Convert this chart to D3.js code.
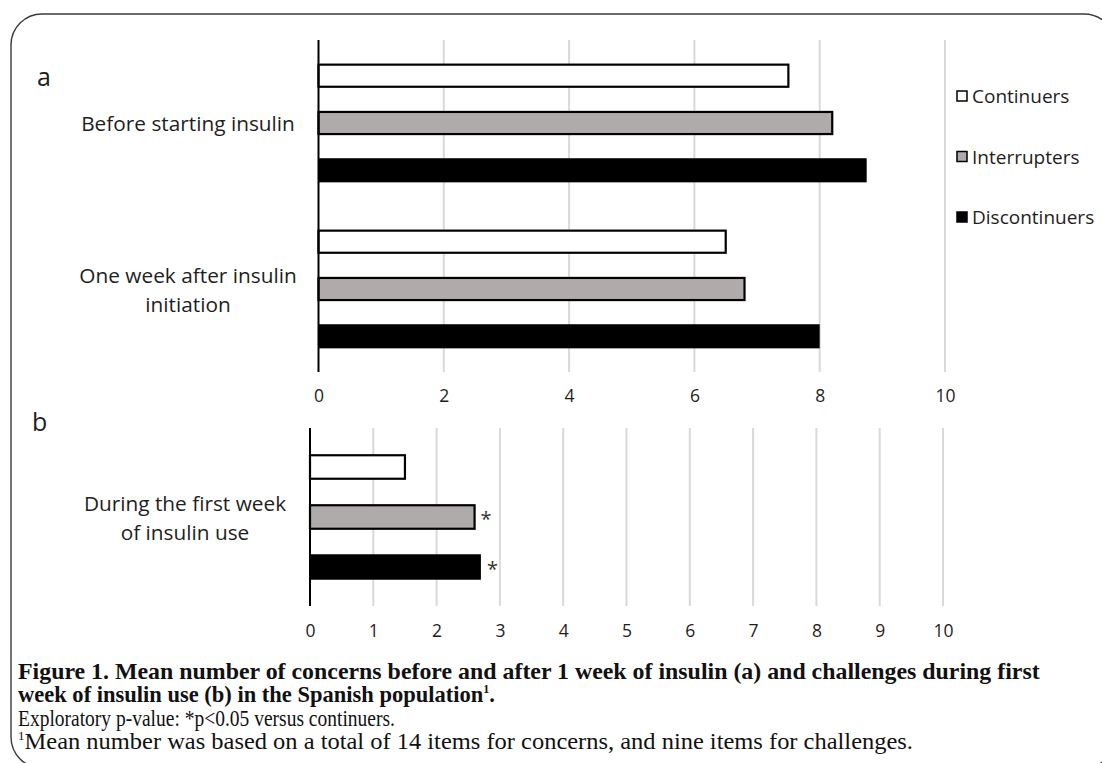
<!DOCTYPE html>
<html>
<head>
<meta charset="utf-8">
<script src="https://cdn.jsdelivr.net/npm/d3@7"></script>
<style>
  html, body { margin: 0; padding: 0; background: #fff; }
  svg { display: block; }
  text { font-variant-ligatures: none; }
</style>
</head>
<body>
<svg id="fig" width="1102" height="763"></svg>
<script>
// Series (groups of patients)
const seriesNames = ["Continuers", "Interrupters", "Discontinuers"];
const seriesFill = ["#ffffff", "#afabab", "#000000"];

// Panel a: mean number of concerns
const concernCategories = [["Before starting insulin"], ["One week after insulin", "initiation"]];
const concernContinuers = [7.5, 6.5];
const concernInterrupters = [8.2, 6.8];
const concernDiscontinuers = [8.75, 8.0];
const concernTicks = [0, 2, 4, 6, 8, 10];

// Panel b: mean number of challenges
const challengeCategories = [["During the first week", "of insulin use"]];
const challengeContinuers = [1.5];
const challengeInterrupters = [2.6];
const challengeDiscontinuers = [2.7];
const challengeSignificant = [[false, true, true]];
const challengeTicks = [0, 1, 2, 3, 4, 5, 6, 7, 8, 9, 10];

const captionLines = [
  "Figure 1. Mean number of concerns before and after 1 week of insulin (a) and challenges during first",
  "week of insulin use (b) in the Spanish population",
  "Exploratory p-value: *p<0.05 versus continuers.",
  "Mean number was based on a total of 14 items for concerns, and nine items for challenges."
];

const svg = d3.select("#fig");
const labelFont = "'Open Sans', 'Noto Sans', sans-serif";
const textColor = "#1e1e1e";

// Rounded frame around the figure
svg.append("rect")
  .attr("x", 11).attr("y", 14)
  .attr("width", 1104).attr("height", 754)
  .attr("rx", 31).attr("ry", 31)
  .attr("fill", "none").attr("stroke", "#3a3a3a").attr("stroke-width", 1.4);

function drawPanel(opts) {
  const { categories, values, ticks, x0, x1, y0, y1, padOuter, labelCx, tickY, significant } = opts;
  const g = svg.append("g");
  const x = d3.scaleLinear().domain([0, 10]).range([x0, x1]);
  const yGroup = d3.scaleBand().domain(d3.range(categories.length)).range([y0, y1]);
  const ySeries = d3.scaleBand().domain(d3.range(seriesNames.length))
    .range([0, yGroup.bandwidth()]).paddingInner(0.49).paddingOuter(padOuter);

  // vertical gridlines
  g.append("g").selectAll("line")
    .data(ticks.filter(t => t > 0))
    .join("line")
    .attr("x1", d => x(d)).attr("x2", d => x(d))
    .attr("y1", y0).attr("y2", y1)
    .attr("stroke", "#d9d9d9").attr("stroke-width", 2);

  // tick labels via axis
  const axis = d3.axisBottom(x).tickValues(ticks).tickFormat(d3.format("d")).tickSize(0).tickPadding(0);
  const ax = g.append("g").attr("transform", `translate(0,${tickY})`).call(axis);
  ax.select(".domain").remove();
  ax.selectAll("text")
    .attr("font-family", labelFont).attr("font-size", 17.5).attr("fill", textColor)
    .attr("dy", null).attr("dominant-baseline", "central");

  // bars
  categories.forEach((cat, ci) => {
    values.forEach((arr, si) => {
      const v = arr[ci];
      const yy = yGroup(ci) + ySeries(si);
      const h = ySeries.bandwidth();
      const dark = si === 2;
      g.append("rect")
        .attr("x", x(0)).attr("y", dark ? yy : yy + 1)
        .attr("width", x(v) - x(0)).attr("height", dark ? h : h - 2)
        .attr("fill", seriesFill[si])
        .attr("stroke", dark ? "none" : "#000").attr("stroke-width", 2.2);
      if (significant && significant[ci][si]) {
        g.append("text")
          .attr("x", x(v) + 6).attr("y", yy + h / 2 + 9)
          .attr("font-family", labelFont).attr("font-size", 20).attr("fill", "#333")
          .text("*");
      }
    });
    // category label (wrapped, centred)
    const cy = yGroup(ci) + yGroup.bandwidth() / 2;
    const lh = 29;
    const t = g.append("text")
      .attr("font-family", labelFont).attr("font-size", 20.8).attr("fill", textColor)
      .attr("text-anchor", "middle");
    cat.forEach((line, li) => {
      t.append("tspan")
        .attr("x", labelCx)
        .attr("y", cy + (li - (cat.length - 1) / 2) * lh)
        .attr("dominant-baseline", "central")
        .text(line);
    });
  });

  // value axis line
  g.append("line")
    .attr("x1", x(0)).attr("x2", x(0))
    .attr("y1", y0).attr("y2", y1)
    .attr("stroke", "#000").attr("stroke-width", 2);
  return g;
}

drawPanel({
  categories: concernCategories,
  values: [concernContinuers, concernInterrupters, concernDiscontinuers],
  ticks: concernTicks,
  x0: 318.5, x1: 945, y0: 40, y1: 372, padOuter: 0.5,
  labelCx: 188, tickY: 395
});

drawPanel({
  categories: challengeCategories,
  values: [challengeContinuers, challengeInterrupters, challengeDiscontinuers],
  ticks: challengeTicks,
  x0: 310, x1: 943, y0: 428, y1: 606, padOuter: 0.525,
  labelCx: 185, tickY: 630, significant: challengeSignificant
});

// panel letters
svg.append("text").attr("x", 37).attr("y", 86)
  .attr("font-family", labelFont).attr("font-size", 25).attr("fill", textColor).text("a");
svg.append("text").attr("x", 32).attr("y", 431)
  .attr("font-family", labelFont).attr("font-size", 25).attr("fill", textColor).text("b");

// legend
const legend = svg.append("g");
const legendY = d3.scalePoint().domain(seriesNames).range([96, 217]);
seriesNames.forEach((name, i) => {
  const cy = legendY(name);
  legend.append("rect")
    .attr("x", 957).attr("y", cy - 5).attr("width", 10).attr("height", 10)
    .attr("fill", seriesFill[i]).attr("stroke", "#000").attr("stroke-width", 1.5);
  legend.append("text")
    .attr("x", 972).attr("y", cy).attr("dominant-baseline", "central")
    .attr("font-family", labelFont).attr("font-size", 19).attr("fill", textColor)
    .text(name);
});

// caption: condensed serif, each line squeezed horizontally to its measure
const serif = "'Liberation Serif', 'DejaVu Serif', serif";
const capSize = 22.5;
const cap = svg.append("g").attr("fill", "#111");
function captionLine(y, width, bold, build) {
  const t = cap.append("text")
    .attr("font-family", serif).attr("font-size", capSize)
    .attr("font-weight", bold ? "bold" : "normal");
  build(t);
  const natural = t.node().getComputedTextLength();
  t.attr("transform", `translate(18,${y}) scale(${width / natural},1)`);
}
captionLine(679, 1022, true, t => t.text(captionLines[0]));
captionLine(702, 477, true, t => {
  t.append("tspan").text(captionLines[1]);
  t.append("tspan").attr("font-size", 12).attr("dy", -9).text("1");
  t.append("tspan").attr("dy", 9).text(".");
});
captionLine(726, 377, false, t => t.text(captionLines[2]));
captionLine(749, 895, false, t => {
  t.append("tspan").attr("font-size", 12).attr("dy", -9).text("1");
  t.append("tspan").attr("dy", 9).text(captionLines[3]);
});
</script>
</body>
</html>
